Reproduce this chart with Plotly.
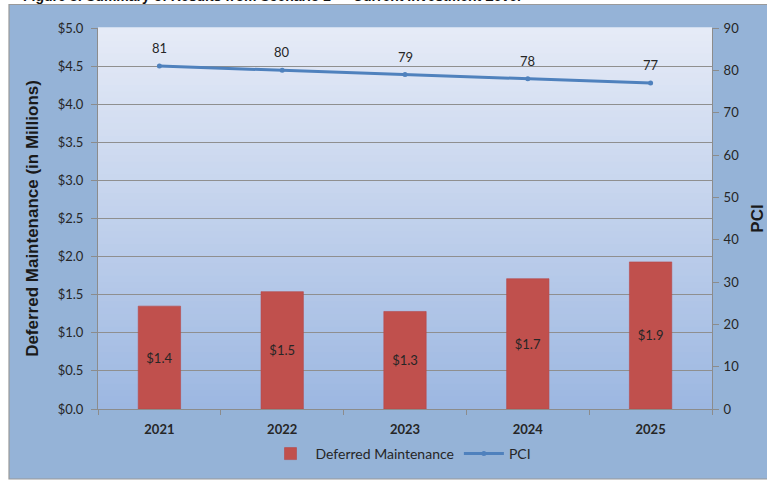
import plotly.graph_objects as go

# --- data -------------------------------------------------------------
years = ["2021", "2022", "2023", "2024", "2025"]
deferred_maintenance = [1.35, 1.54, 1.28, 1.71, 1.93]   # $ millions
pci = [81, 80, 79, 78, 77]

W, H = 767, 481
L, R, T, B = 98, 712, 28, 409          # plot-area edges in pixels


def px_x(x):
    return (x - L) / (R - L)


def px_y(y):
    return (B - y) / (B - T)


fig = go.Figure()

fig.add_trace(go.Bar(
    x=years, y=deferred_maintenance, name="Deferred Maintenance",
    marker=dict(color="#c0504d", line=dict(color="#b5474a", width=0.6)),
    width=0.345,
    texttemplate="$%{y:.1f}", textposition="inside", insidetextanchor="middle",
    textfont=dict(family="Lato", size=13, color="#262626"),
    yaxis="y",
))

fig.add_trace(go.Scatter(
    x=years, y=pci, name="PCI", mode="lines+markers",
    line=dict(color="#4f81bd", width=3),
    marker=dict(color="#4f81bd", size=5),
    yaxis="y2",
))

# PCI value labels sitting above each point (category index positions)
annotations = [
    dict(x=i, y=v, xref="x", yref="y2", text=str(v), showarrow=False,
         yanchor="bottom", yshift=8,
         font=dict(family="Lato", size=13, color="#262626"))
    for i, v in enumerate(pci)
]
annotations.append(dict(
    text="Figure 8: Summary of Results from Scenario 2 \u2014 Current Investment Level",
    xref="paper", yref="paper", x=px_x(21), y=px_y(6), xanchor="left",
    yanchor="bottom", showarrow=False,
    font=dict(family="Liberation Sans", size=14, color="#111111", weight="bold"),
))

shapes = []
# outer chart frame
shapes.append(dict(
    type="rect", xref="paper", yref="paper", layer="below",
    x0=px_x(9), x1=px_x(770), y0=px_y(479), y1=px_y(4.5),
    fillcolor="#95b3d7", line=dict(color="#9a9a9a", width=1.2),
))
# vertical gradient inside the plot area
top_c = (230, 235, 247)
bot_c = (156, 183, 225)
n = 60
for i in range(n):
    f = (i + 0.5) / n
    c = tuple(round(bot_c[k] + (top_c[k] - bot_c[k]) * f) for k in range(3))
    shapes.append(dict(
        type="rect", xref="paper", yref="paper", layer="below",
        x0=0, x1=1, y0=i / n, y1=(i + 1) / n + 0.002,
        fillcolor="rgb(%d,%d,%d)" % c, line=dict(width=0),
    ))

fig.update_layout(
    width=W, height=H,
    margin=dict(l=L, r=W - R, t=T, b=H - B, autoexpand=False),
    paper_bgcolor="white",
    plot_bgcolor="rgba(0,0,0,0)",
    shapes=shapes,
    annotations=annotations,
    showlegend=True,
    legend=dict(
        orientation="h", x=px_x(401), xanchor="center",
        y=px_y(454), yanchor="middle",
        font=dict(family="Lato", size=14, color="#262626"),
        bgcolor="rgba(0,0,0,0)", itemwidth=40, tracegroupgap=0,
    ),
    xaxis=dict(
        type="category", categoryarray=years, automargin=False,
        showline=True, linecolor="#8c8c8c", linewidth=1,
        ticks="outside", tickson="boundaries", ticklen=5, tickcolor="#8c8c8c",
        ticklabelstandoff=8,
        tickfont=dict(family="Lato", size=13, color="#262626", weight="bold"),
        showgrid=False,
    ),
    yaxis=dict(
        range=[0, 5], dtick=0.5, tickprefix="$", tickformat=".1f",
        automargin=False,
        showline=True, linecolor="#8c8c8c", linewidth=1,
        ticks="outside", ticklen=6, tickcolor="#8c8c8c",
        ticklabelstandoff=5,
        tickfont=dict(family="Lato", size=13, color="#262626"),
        showgrid=True, gridcolor="#8f8f8f", gridwidth=1,
        zeroline=False,
        title=dict(text="Deferred Maintenance (in Millions)", standoff=14,
                   font=dict(family="Liberation Sans", size=17, color="#1a1a1a",
                             weight="bold")),
    ),
    yaxis2=dict(
        range=[0, 90], dtick=10, overlaying="y", side="right",
        automargin=False,
        showline=True, linecolor="#8c8c8c", linewidth=1,
        ticks="outside", ticklen=6, tickcolor="#8c8c8c",
        ticklabelstandoff=2,
        tickfont=dict(family="Lato", size=13, color="#262626"),
        showgrid=False, zeroline=False,
        title=dict(text="PCI", standoff=22,
                   font=dict(family="Liberation Sans", size=17, color="#1a1a1a",
                             weight="bold")),
    ),
)

fig.write_html("out.html")
